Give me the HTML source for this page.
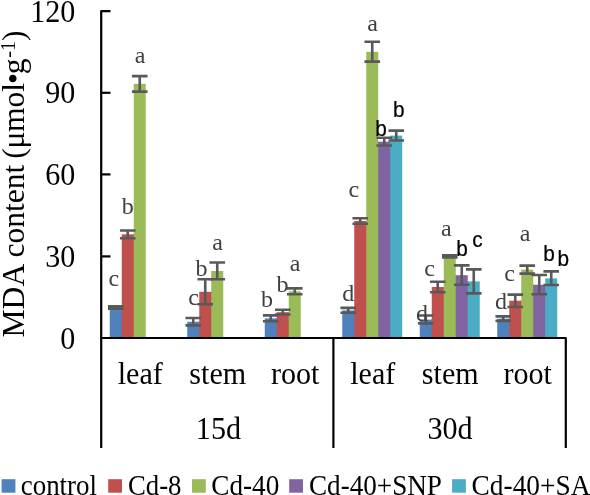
<!DOCTYPE html>
<html><head><meta charset="utf-8"><title>MDA content</title>
<style>
html,body{margin:0;padding:0;background:#fff;}
body{width:590px;height:495px;overflow:hidden;position:relative;font-family:"Liberation Serif",serif;}
svg{position:absolute;left:0;top:0;will-change:transform;opacity:0.9999;}
text{font-family:"Liberation Serif",serif;}
.ax{font-size:32px;fill:#000;}
.lg{font-size:29.33px;fill:#000;}
.ls{font-size:24px;fill:#404040;text-anchor:middle;}
.ss{font-family:"Liberation Sans",sans-serif;font-size:22.4px;fill:#000;stroke:#000;stroke-width:0.25px;}
</style></head><body>
<svg width="590" height="495" viewBox="0 0 590 495">
<rect x="0" y="0" width="590" height="495" fill="#fff"/>
<g shape-rendering="auto">
<rect x="109.75" y="307.60" width="12.00" height="29.90" fill="#4F81BD"/>
<rect x="120.75" y="307.60" width="2" height="29.90" fill="#4F81BD"/>
<rect x="121.75" y="234.30" width="12.00" height="103.20" fill="#C0504D"/>
<rect x="132.75" y="234.30" width="2" height="103.20" fill="#C0504D"/>
<rect x="133.75" y="83.80" width="12.00" height="253.70" fill="#9BBB59"/>
<rect x="187.25" y="321.80" width="12.00" height="15.70" fill="#4F81BD"/>
<rect x="198.25" y="321.80" width="2" height="15.70" fill="#4F81BD"/>
<rect x="199.25" y="291.80" width="12.00" height="45.70" fill="#C0504D"/>
<rect x="210.25" y="291.80" width="2" height="45.70" fill="#C0504D"/>
<rect x="211.25" y="271.00" width="12.00" height="66.50" fill="#9BBB59"/>
<rect x="264.75" y="318.40" width="12.00" height="19.10" fill="#4F81BD"/>
<rect x="275.75" y="318.40" width="2" height="19.10" fill="#4F81BD"/>
<rect x="276.75" y="312.20" width="12.00" height="25.30" fill="#C0504D"/>
<rect x="287.75" y="312.20" width="2" height="25.30" fill="#C0504D"/>
<rect x="288.75" y="291.30" width="12.00" height="46.20" fill="#9BBB59"/>
<rect x="342.25" y="310.40" width="12.00" height="27.10" fill="#4F81BD"/>
<rect x="353.25" y="310.40" width="2" height="27.10" fill="#4F81BD"/>
<rect x="354.25" y="221.00" width="12.00" height="116.50" fill="#C0504D"/>
<rect x="365.25" y="221.00" width="2" height="116.50" fill="#C0504D"/>
<rect x="366.25" y="51.80" width="12.00" height="285.70" fill="#9BBB59"/>
<rect x="377.25" y="141.70" width="2" height="195.80" fill="#9BBB59"/>
<rect x="378.25" y="141.70" width="12.00" height="195.80" fill="#8064A2"/>
<rect x="389.25" y="141.70" width="2" height="195.80" fill="#8064A2"/>
<rect x="390.25" y="135.60" width="12.00" height="201.90" fill="#4BACC6"/>
<rect x="419.75" y="319.60" width="12.00" height="17.90" fill="#4F81BD"/>
<rect x="430.75" y="319.60" width="2" height="17.90" fill="#4F81BD"/>
<rect x="431.75" y="287.00" width="12.00" height="50.50" fill="#C0504D"/>
<rect x="442.75" y="287.00" width="2" height="50.50" fill="#C0504D"/>
<rect x="443.75" y="256.40" width="12.00" height="81.10" fill="#9BBB59"/>
<rect x="454.75" y="275.20" width="2" height="62.30" fill="#9BBB59"/>
<rect x="455.75" y="275.20" width="12.00" height="62.30" fill="#8064A2"/>
<rect x="466.75" y="281.40" width="2" height="56.10" fill="#8064A2"/>
<rect x="467.75" y="281.40" width="12.00" height="56.10" fill="#4BACC6"/>
<rect x="497.25" y="318.70" width="12.00" height="18.80" fill="#4F81BD"/>
<rect x="508.25" y="318.70" width="2" height="18.80" fill="#4F81BD"/>
<rect x="509.25" y="300.70" width="12.00" height="36.80" fill="#C0504D"/>
<rect x="520.25" y="300.70" width="2" height="36.80" fill="#C0504D"/>
<rect x="521.25" y="269.60" width="12.00" height="67.90" fill="#9BBB59"/>
<rect x="532.25" y="284.80" width="2" height="52.70" fill="#9BBB59"/>
<rect x="533.25" y="284.80" width="12.00" height="52.70" fill="#8064A2"/>
<rect x="544.25" y="284.80" width="2" height="52.70" fill="#8064A2"/>
<rect x="545.25" y="278.40" width="12.00" height="59.10" fill="#4BACC6"/>
</g>
<g stroke="#595959" stroke-width="2.6" fill="none">
<path d="M115.75 306.40V308.80M107.95 306.40H123.55M107.95 308.80H123.55"/>
<path d="M127.75 230.50V238.20M119.95 230.50H135.55M119.95 238.20H135.55"/>
<path d="M139.75 76.10V91.60M131.95 76.10H147.55M131.95 91.60H147.55"/>
<path d="M193.25 318.00V325.40M185.45 318.00H201.05M185.45 325.40H201.05"/>
<path d="M205.25 279.30V304.30M197.45 279.30H213.05M197.45 304.30H213.05"/>
<path d="M217.25 262.50V279.30M209.45 262.50H225.05M209.45 279.30H225.05"/>
<path d="M270.75 315.40V321.20M262.95 315.40H278.55M262.95 321.20H278.55"/>
<path d="M282.75 309.70V314.50M274.95 309.70H290.55M274.95 314.50H290.55"/>
<path d="M294.75 288.40V294.30M286.95 288.40H302.55M286.95 294.30H302.55"/>
<path d="M348.25 307.90V312.80M340.45 307.90H356.05M340.45 312.80H356.05"/>
<path d="M360.25 218.20V223.80M352.45 218.20H368.05M352.45 223.80H368.05"/>
<path d="M372.25 41.80V61.60M364.45 41.80H380.05M364.45 61.60H380.05"/>
<path d="M384.25 137.70V145.50M376.45 137.70H392.05M376.45 145.50H392.05"/>
<path d="M396.25 130.60V140.50M388.45 130.60H404.05M388.45 140.50H404.05"/>
<path d="M425.75 315.50V323.40M417.95 315.50H433.55M417.95 323.40H433.55"/>
<path d="M437.75 281.80V292.30M429.95 281.80H445.55M429.95 292.30H445.55"/>
<path d="M449.75 255.30V257.50M441.95 255.30H457.55M441.95 257.50H457.55"/>
<path d="M461.75 265.40V284.80M453.95 265.40H469.55M453.95 284.80H469.55"/>
<path d="M473.75 269.40V293.40M465.95 269.40H481.55M465.95 293.40H481.55"/>
<path d="M503.25 316.40V320.90M495.45 316.40H511.05M495.45 320.90H511.05"/>
<path d="M515.25 294.60V307.00M507.45 294.60H523.05M507.45 307.00H523.05"/>
<path d="M527.25 265.60V273.60M519.45 265.60H535.05M519.45 273.60H535.05"/>
<path d="M539.25 275.00V294.30M531.45 275.00H547.05M531.45 294.30H547.05"/>
<path d="M551.25 271.40V285.00M543.45 271.40H559.05M543.45 285.00H559.05"/>
</g>
<g stroke="#000" stroke-width="2.2" fill="none" stroke-linejoin="round">
<path d="M110.5 11.2H101.2V448"/>
<path d="M333.4 448V338"/>
<path d="M101.2 338H565.8V448"/>
<path d="M101 92.8H110.5"/>
<path d="M101 174.4H110.5"/>
<path d="M101 256.4H110.5"/>
</g>
<text class="ax" transform="translate(75.30 21.70) scale(0.9400 1)" text-anchor="end">120</text>
<text class="ax" transform="translate(75.30 103.30) scale(0.9400 1)" text-anchor="end">90</text>
<text class="ax" transform="translate(75.30 184.90) scale(0.9400 1)" text-anchor="end">60</text>
<text class="ax" transform="translate(75.30 266.90) scale(0.9400 1)" text-anchor="end">30</text>
<text class="ax" transform="translate(75.30 348.50) scale(0.9400 1)" text-anchor="end">0</text>
<text class="ax" style="font-size:31.6px" transform="translate(23.8 337.5) rotate(-90)">MDA content<tspan dx="-2"> (</tspan><tspan dx="-0.25">μ</tspan><tspan dx="-0.55">mol</tspan><tspan dx="-1.1">•</tspan><tspan dx="-1.2">g</tspan><tspan font-size="20px" dy="-9.1" dx="0.7">-1</tspan><tspan dy="9.1" dx="-0.1">)</tspan></text>
<text class="ax" transform="translate(140.25 383.50) scale(0.9400 1)" text-anchor="middle">leaf</text>
<text class="ax" transform="translate(217.75 383.50) scale(0.9400 1)" text-anchor="middle">stem</text>
<text class="ax" transform="translate(295.25 383.50) scale(0.9400 1)" text-anchor="middle">root</text>
<text class="ax" transform="translate(372.75 383.50) scale(0.9400 1)" text-anchor="middle">leaf</text>
<text class="ax" transform="translate(450.25 383.50) scale(0.9400 1)" text-anchor="middle">stem</text>
<text class="ax" transform="translate(527.75 383.50) scale(0.9400 1)" text-anchor="middle">root</text>
<text class="ax" transform="translate(218.40 439.10) scale(0.9400 1)" text-anchor="middle">15d</text>
<text class="ax" transform="translate(450.00 439.10) scale(0.9400 1)" text-anchor="middle">30d</text>
<text class="ls" x="113.9" y="286.4">c</text>
<text class="ls" x="127.8" y="213.7">b</text>
<text class="ls" x="140.2" y="63.3">a</text>
<text class="ls" x="193.7" y="305.2">c</text>
<text class="ls" x="201.6" y="275.8">b</text>
<text class="ls" x="217.5" y="250.2">a</text>
<text class="ls" x="267.0" y="306.8">b</text>
<text class="ls" x="282.4" y="291.7">b</text>
<text class="ls" x="295.1" y="270.5">a</text>
<text class="ls" x="348.2" y="301.4">d</text>
<text class="ls" x="353.8" y="196.5">c</text>
<text class="ls" x="372.7" y="31.2">a</text>
<text class="ls" x="422.0" y="320.9">d</text>
<text class="ls" x="429.5" y="275.6">c</text>
<text class="ls" x="446.4" y="235.6">a</text>
<text class="ls" x="501.0" y="309.1">d</text>
<text class="ls" x="509.7" y="281.2">c</text>
<text class="ls" x="525.0" y="241.2">a</text>
<text class="ss" transform="translate(381.00 136.00) scale(0.9300 1)" text-anchor="middle">b</text>
<text class="ss" transform="translate(398.70 116.50) scale(0.9300 1)" text-anchor="middle">b</text>
<text class="ss" transform="translate(462.00 255.60) scale(0.9300 1)" text-anchor="middle">b</text>
<text class="ss" transform="translate(477.50 246.50) scale(0.9300 1)" text-anchor="middle">c</text>
<text class="ss" transform="translate(549.00 261.20) scale(0.9300 1)" text-anchor="middle">b</text>
<text class="ss" transform="translate(563.40 266.30) scale(0.9300 1)" text-anchor="middle">b</text>
<rect x="1.6" y="479.2" width="13.8" height="13.5" fill="#4F81BD"/>
<text class="lg" transform="translate(20.70 494.80) scale(0.9190 1)" text-anchor="start">control</text>
<rect x="108.2" y="479.2" width="13.8" height="13.5" fill="#C0504D"/>
<text class="lg" transform="translate(127.90 494.80) scale(0.9140 1)" text-anchor="start">Cd-8</text>
<rect x="192.0" y="479.2" width="13.8" height="13.5" fill="#9BBB59"/>
<text class="lg" transform="translate(211.30 494.80) scale(0.9280 1)" text-anchor="start">Cd-40</text>
<rect x="289.2" y="479.2" width="13.8" height="13.5" fill="#8064A2"/>
<text class="lg" transform="translate(309.00 494.80) scale(0.9260 1)" text-anchor="start">Cd-40+SNP</text>
<rect x="452.1" y="479.2" width="13.8" height="13.5" fill="#4BACC6"/>
<text class="lg" transform="translate(471.60 494.80) scale(0.9330 1)" text-anchor="start">Cd-40+SA</text>
</svg>
</body></html>
